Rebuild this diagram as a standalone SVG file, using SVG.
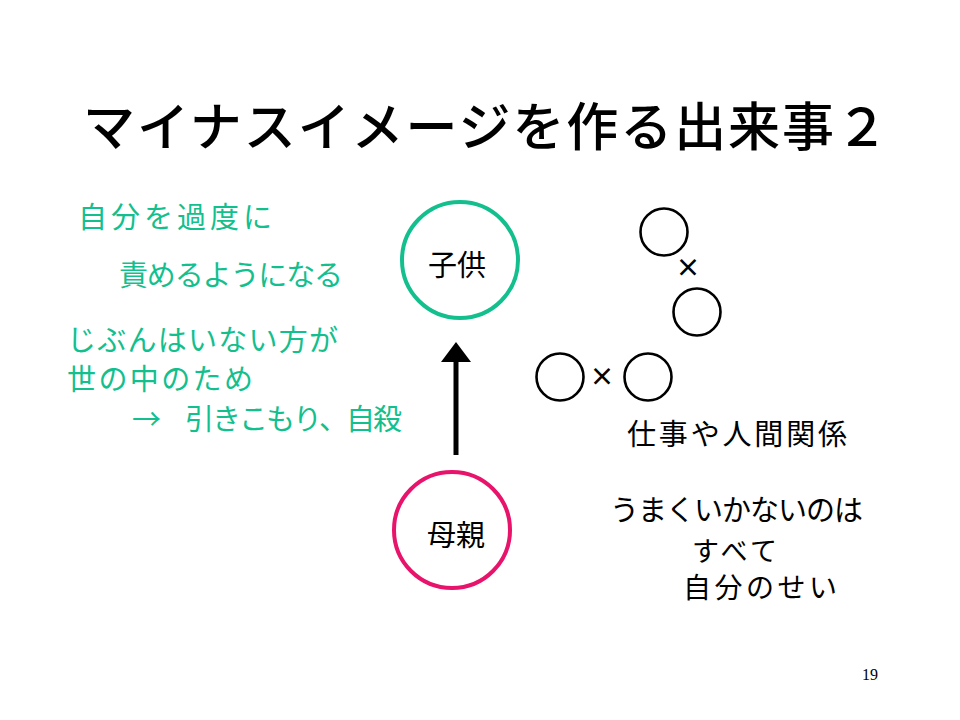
<svg xmlns="http://www.w3.org/2000/svg" width="960" height="720" viewBox="0 0 960 720">
<style>
.t{font-family:"Noto Sans CJK JP","Noto Sans CJK SC",sans-serif;}
.g{fill:#14BF8E;font-size:29px;}
.b{fill:#000;font-size:29px;}
.small{fill:none;stroke:#000;stroke-width:2.6;}
</style>
<defs>
<marker id="ah" markerWidth="4" markerHeight="6" refX="0" refY="3" orient="auto" markerUnits="strokeWidth"><path d="M0,0 L4,3 L0,6 Z" fill="#000"/></marker>
</defs>
<rect width="960" height="720" fill="#fff"/>
<text class="t" x="83" y="146" font-size="52" font-weight="500" fill="#000" textLength="805">マイナスイメージを作る出来事２</text>
<g id="notes-left" class="t g">
<text x="78" y="228" textLength="194">自分を過度に</text>
<text x="119" y="286" textLength="224">責めるようになる</text>
<text x="67" y="351" textLength="271">じぶんはいない方が</text>
<text x="67" y="390" textLength="186">世の中のため</text>
<text y="430"><tspan x="132">→</tspan><tspan x="185" textLength="217">引きこもり、自殺</tspan></text>
</g>
<g id="connectors">
<line x1="456" y1="455" x2="456" y2="362" stroke="#000" stroke-width="5" marker-end="url(#ah)"/>
</g>
<g id="child">
<circle cx="460" cy="260" r="58" fill="none" stroke="#14BF8E" stroke-width="4"/>
<text class="t" x="457" y="276" font-size="29" text-anchor="middle" fill="#000">子供</text>
</g>
<g id="mother">
<circle cx="452" cy="530" r="58" fill="none" stroke="#E8136B" stroke-width="4"/>
<text class="t" x="456" y="546" font-size="29" text-anchor="middle" fill="#000">母親</text>
</g>
<g id="relations">
<circle class="small" cx="664" cy="232" r="23.5"/>
<circle class="small" cx="697" cy="312" r="23.5"/>
<circle class="small" cx="560" cy="377" r="23.5"/>
<circle class="small" cx="648" cy="377" r="23.5"/>
<text class="t" x="688" y="277" font-size="25" font-weight="bold" text-anchor="middle" fill="#000">×</text>
<text class="t" x="602" y="386" font-size="25" font-weight="bold" text-anchor="middle" fill="#000">×</text>
</g>
<g id="notes-right" class="t b">
<text x="627" y="445" textLength="220">仕事や人間関係</text>
<text x="610" y="521" textLength="253">うまくいかないのは</text>
<text x="692" y="561" font-size="27" textLength="85">すべて</text>
<text x="683" y="598" font-size="28" textLength="154">自分のせい</text>
</g>
<text x="870" y="680" font-family="Liberation Serif,serif" font-size="16" text-anchor="middle" fill="#000">19</text>
</svg>
